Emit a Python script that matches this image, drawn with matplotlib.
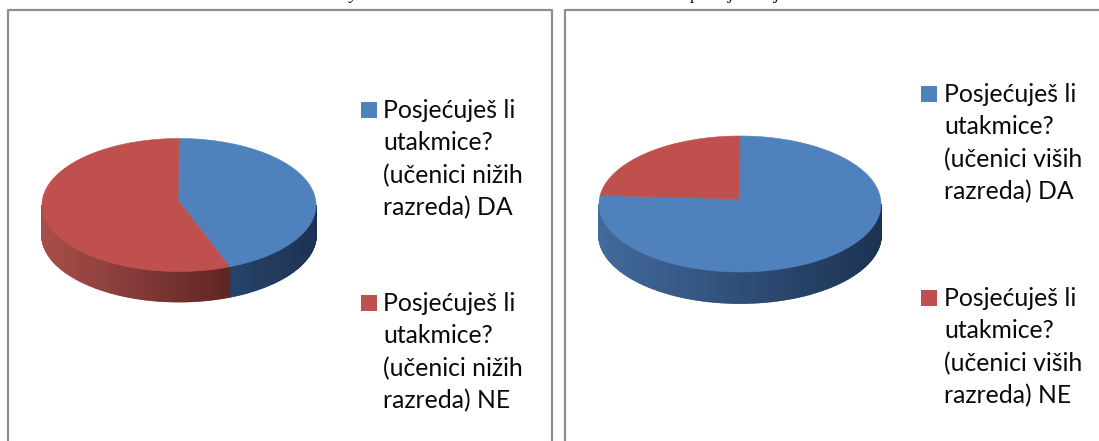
import matplotlib
matplotlib.use("Agg")
import matplotlib.pyplot as plt
import numpy as np

# Pie shares
left_values = [44, 56]
right_values = [77, 23]

left_labels = ["Posjećuješ li\nutakmice?\n(učenici nižih\nrazreda) DA",
               "Posjećuješ li\nutakmice?\n(učenici nižih\nrazreda) NE"]
right_labels = ["Posjećuješ li\nutakmice?\n(učenici viših\nrazreda) DA",
                "Posjećuješ li\nutakmice?\n(učenici viših\nrazreda) NE"]

top_colors = ["#4f81bd", "#c0504d"]
# side colour at left / right end of the pie
side_colors = [((66, 106, 156), (28, 50, 82)), ((168, 78, 75), (60, 20, 18))]

fig = plt.figure(figsize=(10.99, 4.41), dpi=100)
ax = fig.add_axes([0, 0, 1, 1])
ax.set_xlim(0, 1099)
ax.set_ylim(441, 0)
ax.axis("off")


def draw_pie(values, cx, cy, rx, ry, apex, depth):
    fracs = np.array(values) / sum(values)
    edges = np.concatenate([[0], np.cumsum(fracs) * 360])
    # side wall first, small steps for the shading
    for i in range(len(values)):
        lo, hi = max(edges[i], 90), min(edges[i + 1], 270)
        if hi <= lo:
            continue
        steps = np.append(np.arange(lo, hi, 1.0), hi)
        for a, b in zip(steps[:-1], steps[1:]):
            t = np.radians([a, b])
            x = cx + rx * np.sin(t)
            y = cy - ry * np.cos(t)
            m = ((x.mean() - (cx - rx)) / (2 * rx))
            c0, c1 = side_colors[i]
            col = [(c0[k] + (c1[k] - c0[k]) * m) / 255 for k in range(3)]
            ax.fill([x[0], x[1], x[1], x[0]], [y[0], y[1], y[1] + depth, y[0] + depth],
                    facecolor=col, edgecolor=col, lw=1.2)
    # top surface
    for i in range(len(values)):
        t = np.radians(np.linspace(edges[i], edges[i + 1], 200))
        x = np.concatenate([[apex[0]], cx + rx * np.sin(t)])
        y = np.concatenate([[apex[1]], cy - ry * np.cos(t)])
        ax.fill(x, y, color=top_colors[i], lw=0.4)


def draw_legend(labels, mx, tx, ys):
    for i, lab in enumerate(labels):
        ax.fill([mx, mx + 16, mx + 16, mx], [ys[i] - 8, ys[i] - 8, ys[i] + 8, ys[i] + 8],
                color=top_colors[i], lw=0)
        for j, line in enumerate(lab.split("\n")):
            ax.text(tx, ys[i] + 8 + j * 32.4, line, fontsize=17.8, family="Lato",
                    color="#0a0a0a", ha="left", va="baseline")


# frames
frame = "#8f8f8f"
ax.plot([8, 8, 552, 552], [441, 10, 10, 441], color=frame, lw=1.6)
ax.plot([565, 565, 1099], [441, 10, 10], color=frame, lw=1.6)

draw_pie(left_values, 179, 205, 137, 66.5, (178, 200), 30)
draw_pie(right_values, 740, 204, 141, 68, (739.5, 199), 31)
draw_legend(left_labels, 361, 383, [110, 303])
draw_legend(right_labels, 921, 944, [94, 298])

# bits of the caption line cut off by the top edge
for x, s in [(350, "y"), (690, "p"), (729, "j"), (775, "j")]:
    ax.text(x, -1, s, fontsize=13, family="Liberation Serif", style="italic",
            color="#111111", ha="left", va="baseline", clip_on=False)

fig.savefig("out.png", dpi=100)
